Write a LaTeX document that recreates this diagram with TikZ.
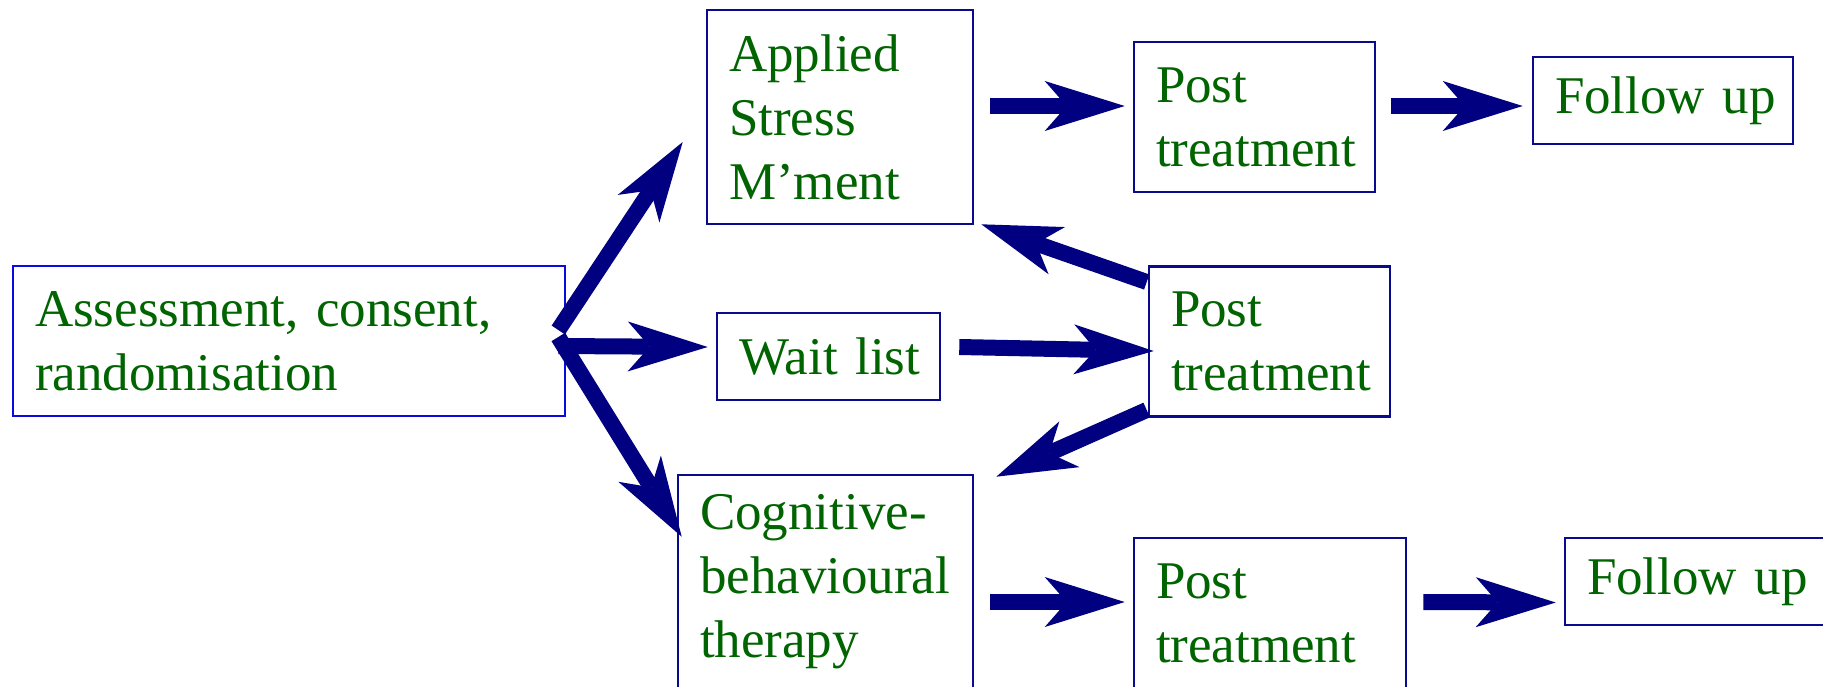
\documentclass[tikz,border=0pt]{standalone}
\usepackage{fontspec}
\setmainfont{Liberation Serif}
\newfontfamily\diagfont{Liberation Serif}
\usetikzlibrary{arrows.meta}
\definecolor{txtgreen}{RGB}{0,100,0}
\definecolor{boxnavy}{RGB}{10,10,140}
\definecolor{boxblue}{RGB}{10,10,225}
\definecolor{arrnavy}{RGB}{0,0,128}
\begin{document}
\begin{tikzpicture}[x=1pt,y=-1pt,
  box/.style={draw=boxnavy, line width=2.6pt, rectangle, inner xsep=22pt, inner ysep=0pt,
    align=left, text=txtgreen, font=\diagfont\fontsize{53}{64}\selectfont, anchor=center},
  bigarrow/.style={draw=arrnavy, line width=16pt,
    -{Stealth[length=80pt, width=50pt, inset=22pt, line width=0pt]}}]
\useasboundingbox (0,0) rectangle (1823,686);
\fill[white] (0,0) rectangle (1823,686);
\node[box, draw=boxblue, text width=508pt, minimum height=150pt] (assess) at (289,341) {Assessment,~consent,\\randomisation};
\node[box, text width=222pt, minimum height=214pt] (asm) at (840,117) {Applied\\Stress\\M’ment};
\node[box, text width=197pt, minimum height=150pt] (post1) at (1254.5,117) {Post\\treatment};
\node[box, text width=216pt, minimum height=87pt] (fu1) at (1663,100.5) {Follow~up};
\node[box, text width=179pt, minimum height=87pt] (wait) at (828.5,356.5) {Wait~list};
\node[box, text width=197pt, minimum height=150pt] (post2) at (1269.5,341.5) {Post\\treatment};
\node[box, text width=251pt, minimum height=214pt] (cbt) at (825.5,582) {Cognitive-\\behavioural\\therapy};
\node[box, text width=228pt, minimum height=150pt] (post3) at (1270,613) {Post\\treatment};
\node[box, text width=216pt, minimum height=87pt] (fu2) at (1695,581.5) {Follow~up};

\draw[bigarrow] ([xshift=16pt,yshift=11pt]asm.east) -- ([xshift=-8pt,yshift=11pt]post1.west);
\draw[bigarrow] ([xshift=15pt,yshift=11pt]post1.east) -- ([xshift=-9pt,yshift=-5.5pt]fu1.west);
\draw[bigarrow] ([xshift=-8pt,yshift=11pt]assess.east) -- ([xshift=-23pt,yshift=-25pt]asm.west);
\draw[bigarrow] ([xshift=-8pt,yshift=-5pt]assess.east) -- ([xshift=-8pt,yshift=9.5pt]wait.west);
\draw[bigarrow] ([xshift=-8pt,yshift=4pt]assess.east) -- ([xshift=5pt,yshift=-63pt]cbt.north west);
\draw[bigarrow] ([xshift=18pt,yshift=9.5pt]wait.east) -- ([xshift=6pt,yshift=-9.5pt]post2.west);
\draw[bigarrow] ([xshift=-1pt,yshift=59.5pt]post2.west) -- ([xshift=7pt,yshift=1pt]asm.south east);
\draw[bigarrow] ([xshift=-1pt,yshift=-68.5pt]post2.west) -- ([xshift=22pt,yshift=-3pt]cbt.north east);
\draw[bigarrow] ([xshift=16pt,yshift=-20pt]cbt.east) -- ([xshift=-8pt,yshift=11pt]post3.west);
\draw[bigarrow] ([xshift=16pt,yshift=11pt]post3.east) -- ([xshift=-8pt,yshift=-21pt]fu2.west);
\end{tikzpicture}
\end{document}
